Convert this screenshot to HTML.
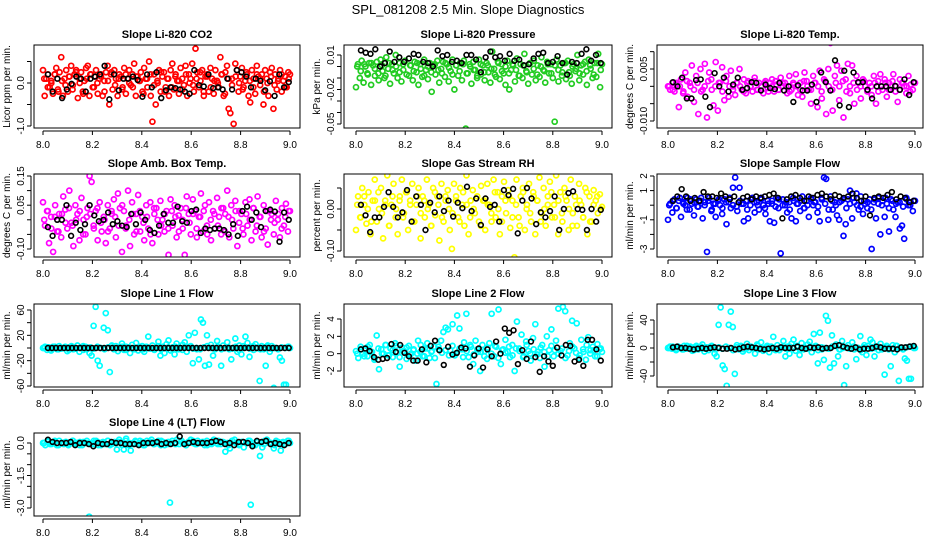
<!DOCTYPE html>
<html><head><meta charset="utf-8"><title>SPL_081208 Slope Diagnostics</title>
<style>
html,body{margin:0;padding:0;background:#fff;}
svg{display:block;font-family:"Liberation Sans",sans-serif;}
</style></head>
<body>
<svg id="chart" width="936" height="540" viewBox="0 0 936 540" xmlns="http://www.w3.org/2000/svg">
<rect width="936" height="540" fill="#fff"/>
<text x="468" y="14" text-anchor="middle" font-size="13">SPL_081208  2.5 Min. Slope Diagnostics</text>
</svg>
<script>
const xTicks = [8.0, 8.2, 8.4, 8.6, 8.8, 9.0];
const xTickLabels = ["8.0", "8.2", "8.4", "8.6", "8.8", "9.0"];

const titles = ["Slope Li-820 CO2","Slope Li-820 Pressure","Slope Li-820 Temp.","Slope Amb. Box Temp.","Slope Gas Stream RH","Slope Sample Flow","Slope Line 1 Flow","Slope Line 2 Flow","Slope Line 3 Flow","Slope Line 4 (LT) Flow"];
const yTitles = ["Licor ppm per min.","kPa per min.","degrees C per min.","degrees C per min.","percent per min.","ml/min per min.","ml/min per min.","ml/min per min.","ml/min per min.","ml/min per min."];
const colors = ["#ff0000","#22cc22","#ff00ff","#ff00ff","#ffff00","#0000ff","#00ffff","#00ffff","#00ffff","#00ffff"];

const yTicks = [[0.5,0,-0.5,-1],[0.01,0,-0.01,-0.02,-0.03,-0.04,-0.05],[0.01,0.005,0,-0.005,-0.01],[0.15,0.1,0.05,0,-0.05,-0.1],[0.05,0,-0.05,-0.1],[2,1,0,-1,-2,-3],[60,40,20,0,-20,-40,-60],[4,2,0,-2],[40,20,0,-20,-40],[0,-0.5,-1,-1.5,-2,-2.5,-3]];
const yTickLabels = [["","0.0","","-1.0"],["0.01","","","-0.02","","","-0.05"],["","0.005","","","-0.010"],["0.15","","0.05","","","-0.10"],["","0.00","","-0.10"],["2","1","","-1","","-3"],["60","","20","","-20","","-60"],["4","2","0","-2"],["40","","0","","-40"],["0.0","","","-1.5","","","-3.0"]];
const yCal = [[0,-1],[0.01,-0.05],[0.005,-0.01],[0.15,-0.1],[0,-0.1],[2,-3],[60,-60],[4,-2],[40,-40],[0,-3]];

const col1 = [0.3,-0.3,0.1,0.2,-0.1,0.05,-0.25,0.2,0.35,-0.15,0.25,0.6,-0.3,0.1,0.3,-0.2,0.15,0.4,-0.05,0.2,0.3,-0.35,0.1,0.25,-0.2,0.05,0.35,0.4,-0.3,0.2,-0.1,0.15,0.3,-0.25,0.1,0.2,-0.3,0.05,0.25,0.4,-0.5,0.2,-0.15,0.3,0.1,-0.3,0.2,0.15,-0.1,0.35,-0.25,0.1,0.3,-0.05,0.2,0.45,-0.3,0.15,0.05,0.25,-0.2,0.35,0.1,-0.1,0.5,-0.3,-0.9,0.2,-0.5,0.05,0.3,-0.2,0.15,0.25,-0.1,0.1,-0.3,0.3,0.45,-0.15,0.2,0.05,-0.25,0.35,0.1,-0.05,0.4,-0.3,0.2,0.1,0.45,-0.2,0.8,0.25,-0.1,0.05,0.3,-0.3,0.15,0.2,-0.2,0.35,0.1,-0.25,0.3,0.05,-0.1,0.6,0.2,-0.3,0.25,0.4,-0.6,-0.7,0.1,-0.95,0.45,0.3,-0.2,0.15,0.35,-0.1,0.05,0.2,-0.3,-0.45,0.3,0.1,-0.25,0.4,0.15,-0.05,0.2,-0.5,0.3,0.1,-0.3,0.25,0.35,-0.6,0.2,-0.15,0.1,0.3,-0.2,0.05,0.15,-0.1,0.25,0.2];
const core1 = [0.1,-0.1,0,0.2,-0.2,0.05,-0.05,0.15,-0.15,0.25,0,-0.25,0.1,0.2,-0.1,0,0.15,-0.2,0.05,0.25,-0.05,0.1,-0.15,0.2,0,-0.1,0.15,0.05,-0.25,0.1,0.2,-0.05,0,0.25,-0.2,0.1,-0.1,0.15,0.05,-0.15,0.2,0,-0.05,0.1,0.25,-0.2,0.15,-0.1,0.05,0,0.2,-0.25,0.1,-0.05,0.15,0,-0.15,0.25,0.05,-0.1,0.2,0.1,-0.2,0,0.15,-0.05,0.05,0.2,-0.1,0.1];
const blk1 = [0.2,-0.2,0.1,-0.35,-0.15,-0.02,0.15,0.1,-0.2,0.1,0.15,0.2,0.4,-0.38,0.2,-0.17,0.1,0.1,0.15,0.07,-0.32,0.2,-0.1,0.25,-0.35,-0.17,-0.1,-0.12,-0.15,-0.2,-0.25,0.3,-0.05,-0.08,0.2,-0.12,-0.1,-0.15,0.1,-0.15,0.3,0.25,0.15,-0.1,0.1,0.05,-0.17,0.04,-0.3,0.2,-0.1,0.02];

const col2 = [-0.018,0.002,-0.01,0.005,-0.014,0,-0.006,0.003,-0.016,0.001,-0.008,0.004,-0.012,0.006,-0.004,-0.01,0.008,-0.002,-0.015,0.002,-0.006,0.01,-0.01,0.003,-0.013,-0.003,0.005,-0.059,-0.008,0.001,-0.012,0.004,-0.005,-0.016,0.002,-0.009,0.006,-0.003,-0.011,0.003,-0.022,0.001,-0.007,0.005,-0.014,-0.002,0.004,-0.009,0.002,-0.013,-0.004,0.006,-0.02,0.001,-0.008,0.003,-0.012,0.005,-0.054,-0.006,0.002,-0.015,0.004,-0.003,-0.01,0.006,-0.007,0.001,-0.012,0.003,-0.005,-0.014,0.013,-0.002,-0.009,0.004,-0.011,0.002,-0.006,-0.016,0.005,-0.02,-0.003,0.001,-0.013,0.007,-0.008,0.002,-0.01,0.011,-0.004,-0.015,0.003,-0.007,0.005,-0.012,0.001,-0.009,0.008,-0.003,-0.014,0.004,-0.006,0.002,-0.01,-0.048,0.006,-0.013,0.001,-0.005,0.003,-0.011,0.005,-0.008,-0.015,0.002,-0.004,0.01,-0.012,0.001,-0.007,0.004,-0.016,0.006,-0.002,-0.01,0.003,-0.009,0.011,-0.018,0.002];
const core2 = [0,-0.004,0.002,-0.007,0.003,-0.002,-0.006,0.001,-0.008,0.003,-0.003,0,-0.005,0.002,-0.007,0.001,-0.004,0.003,-0.002,-0.008,0,-0.005,0.002,-0.003,-0.006,0.003,-0.001,-0.007,0.001,-0.004,0.002,-0.006,0,-0.003,-0.008,0.002,-0.005,0.001,-0.002,-0.007,0.003,-0.004,0,-0.006,0.002,-0.003,-0.008,0.001,-0.005,0.003,-0.002,-0.007,0,-0.004,0.002,-0.006,0.001,-0.003,-0.008,0.003,-0.005,0,-0.002,-0.006,0.002,-0.004,0.001,-0.007,0.003,-0.003];
const blk2 = [0.014,0.012,0.011,0.015,0,0.003,0.013,0.004,0.008,0.004,0.007,0.011,0.01,0.004,0.003,0,0.014,0.009,0.01,0.004,0.005,0.003,0.01,0.01,0.006,-0.005,0.008,0.013,0.008,0.009,0.005,0.011,0.005,0.006,0.001,0.002,0.007,0.011,0.012,0.003,0.004,0.009,0.003,-0.007,0.004,0.003,0.011,0.015,0.005,0.01,0.003];

const col3 = [0,-0.001,0.001,-0.0015,0.0005,-0.006,0.002,-0.002,0.004,-0.003,0.001,0.006,-0.0045,0.003,-0.008,0.005,-0.001,0.0065,-0.009,0.004,0.002,-0.0055,0.007,-0.007,0.001,0.0055,-0.004,0.003,-0.003,0.0045,0,-0.0025,0.001,0.005,-0.001,0.002,-0.002,0.0015,0,-0.0015,0.0025,-0.001,0.001,0,-0.002,0.0015,-0.0005,0.001,0.002,-0.0015,0.0005,-0.001,0.0025,0,0.001,-0.002,0.003,-0.001,0.0005,0.0035,-0.0025,0.001,-0.003,0.004,0.0015,-0.001,-0.005,0.003,0.001,-0.006,0.0045,-0.0035,0.002,-0.008,0.005,0.0125,-0.007,0.003,0.006,-0.004,0.0045,-0.009,0.002,0.0065,-0.002,0.006,-0.005,0.003,0.001,-0.0035,0.002,0,-0.0015,0.001,-0.0025,0.003,-0.005,0.0015,0.0035,-0.001,0.002,-0.003,0.001,0,0.0035,-0.0015,-0.0045,0.002,0.001,0,-0.002,0.003,0.0005,-0.001,0.001];
const core3 = [0,-0.001,0.001,0,-0.0015,0.0015,0,-0.001,0.001,-0.0015,0,0.0015,-0.001,0,0.001,-0.0015,0.0015,0,-0.001,0.001,0,-0.0015,0.001,0,0.0015,-0.001,0,0.001,-0.0015,0,0.0015,-0.001,0.001,0,-0.0015,0.001,0,-0.001,0.0015,0,-0.001,0.001,0,-0.0015,0.0015,0,-0.001,0.001,0,0.0015,-0.0015,0,0.001,-0.001,0,0.0015,-0.001,0,0.001,-0.0015,0,0.001,-0.001,0.0015,0,-0.001,0.001,0,-0.0015,0.001];
const blk3 = [0.0012,0,0.0025,-0.0035,-0.0035,0.0018,0.002,-0.003,-0.006,0.0038,0,0.0025,-0.0015,0.0005,0.0025,-0.001,-0.0005,0.0012,0.001,-0.0012,0.0005,-0.0005,-0.0008,0.001,-0.0012,0,-0.0045,0.0003,-0.0012,-0.0012,0.0005,-0.0045,0.004,0.0012,-0.0012,0.0075,-0.0055,0.0045,-0.006,0.004,0.0012,0.0012,-0.001,-0.0035,0,0,0,-0.001,0.0001,-0.001,0.002,-0.0025,0.0012];

const col4 = [0.06,-0.02,0.03,-0.08,0.01,-0.11,0.05,-0.04,0.02,-0.06,0.08,0.035,-0.03,0.1,-0.01,-0.09,0.05,0.02,-0.07,0.075,0,-0.05,0.04,0.15,0.13,-0.02,0.03,-0.07,0.06,-0.04,0.01,-0.08,0.05,-0.03,0.02,0.07,-0.06,0.09,0.04,-0.11,0.03,-0.02,0.1,-0.09,0.06,-0.05,0.02,0.085,-0.04,0.01,-0.07,0.05,-0.03,0.06,-0.08,0.02,0.04,-0.05,0.065,0,-0.04,0.03,-0.12,0.07,-0.02,0.05,-0.06,0.015,0.04,-0.03,-0.12,0.08,0.02,-0.05,0.07,0.03,-0.06,0.01,0.09,-0.04,0.05,-0.02,0.06,-0.07,0.03,-0.03,0.075,0.01,-0.05,0.04,0.02,0.1,-0.06,0.05,-0.03,0.065,-0.09,0.03,0.02,-0.05,0.06,-0.02,0.07,-0.07,0.04,-0.04,0.08,0.01,-0.06,0.05,-0.03,-0.085,0.03,0.02,-0.05,0.065,0,-0.06,0.04,-0.02,0.055,-0.04,0.03];
const core4 = [0,0.03,-0.03,0.01,-0.04,0.02,-0.01,0.04,-0.02,0,0.03,-0.05,0.01,0.02,-0.03,0.04,-0.01,0,-0.04,0.03,0.01,-0.02,0.05,-0.03,0,0.02,-0.04,0.03,-0.01,0.01,-0.05,0.04,0,-0.02,0.02,-0.03,0.03,0.01,-0.04,0,0.04,-0.01,0.02,-0.03,0.01,0.03,-0.05,0,0.02,-0.02,0.04,-0.04,0.01,0,0.03,-0.01,-0.03,0.02,0,0.04,-0.02,0.01,-0.04,0.03,0,-0.01,0.02,-0.03,0.01,0.03];
const blk4 = [-0.025,-0.055,0,0,0.05,-0.055,-0.01,-0.035,-0.015,0.05,0.015,-0.005,0,0.025,-0.015,-0.005,-0.02,-0.025,0.02,-0.015,0.025,0,-0.035,-0.045,-0.02,0.02,-0.01,-0.01,0.045,-0.005,-0.01,0.03,0.035,-0.045,-0.03,-0.035,-0.03,-0.03,-0.035,-0.05,-0.015,-0.055,0.03,0.045,0,0.025,-0.025,0.03,0.035,0.028,-0.075,0.025,0];

const col5 = [-0.05,0.03,-0.02,0.05,0.01,-0.035,0.04,-0.06,0.02,0.07,-0.03,0,0.05,-0.07,0.02,0.08,-0.04,0.01,0.06,-0.02,-0.06,0.03,0.07,-0.01,0.04,-0.05,0.02,0.06,-0.03,0.01,0.05,-0.07,0.03,-0.02,0.07,0.01,-0.04,0.05,-0.015,0.03,-0.075,0.06,-0.03,0.02,0.045,-0.05,-0.095,0.06,0.03,-0.02,0.05,0.01,-0.04,0.08,-0.06,0.02,0.045,-0.01,0.12,-0.03,0.055,0.02,-0.05,0.06,0.01,-0.03,0.07,-0.02,0.04,-0.06,0.03,0.065,-0.01,0.045,-0.045,0.02,-0.115,0.07,-0.02,0.03,0.05,-0.05,0.01,0.06,-0.03,0.04,-0.06,0.02,0.075,-0.01,0.05,-0.04,0.03,0.065,-0.02,0.01,0.08,-0.06,0.04,-0.03,0.05,0.02,-0.05,0.07,-0.01,0.03,-0.04,0.06,0.01,-0.02,0.05,-0.06,0.03,-0.03,0.045,0.02,-0.01,0.035,0.005];
const core5 = [0.01,-0.02,0.03,0,-0.03,0.02,0.04,-0.01,0.01,-0.04,0.03,0,0.02,-0.02,0.04,0.01,-0.03,0.03,-0.01,0.02,0,-0.04,0.04,0.01,-0.02,0.03,0,-0.01,0.02,-0.03,0.04,0.01,-0.02,0,0.03,-0.04,0.02,0.01,-0.01,0.04,0,-0.03,0.02,0.03,-0.02,0.01,-0.04,0.04,0,-0.01,0.03,0.02,-0.03,0,0.01,0.04,-0.02,0.02,-0.01,0.03,0,-0.04,0.01,0.02,-0.02,0.04,-0.03,0.01,0.03,0];
const blk5 = [0.01,-0.015,-0.055,-0.02,-0.02,0.005,0.04,0.005,-0.02,-0.008,0.045,-0.03,0.03,0.01,-0.05,0.015,-0.008,0.03,-0.005,0.02,-0.018,0.015,0.002,0.053,-0.005,0.025,-0.038,0.025,0.005,0.01,-0.03,0.045,0.033,0.048,-0.058,0.02,0.05,0.025,-0.036,-0.008,-0.02,-0.005,0.03,-0.05,0,0.038,0.042,0,-0.002,-0.05,0,-0.03,-0.002];

const col6 = [-1,0.1,-0.5,0.4,-0.2,0.3,-0.8,0.2,0,0.5,-0.3,0.1,-0.7,0.4,-0.1,0.3,-0.9,0.2,-3.2,0.5,-0.4,0.1,-0.8,0.3,0,-0.6,0.4,-1.3,0.2,-0.2,1.2,1.9,-0.4,1.2,0.1,-1.1,0.3,-0.9,0,0.5,-0.5,0.2,-0.3,0.4,0,-0.6,0.3,-1.1,0.1,-1.2,0.5,-0.2,-3.3,0.4,0,-0.5,0.2,-0.9,0.3,-1.1,0.1,-0.4,0.6,-0.2,0.3,-0.8,0.5,0,0.2,-0.5,-1.1,0.4,1.9,1.8,-1,0.6,-0.3,0.2,-0.7,-1,0.3,-2.1,-1.3,0.4,1,-0.9,0.2,0.8,-0.3,0.6,-0.6,0.1,-0.2,0.4,-3,0.2,-0.9,0.5,-2,0.3,-0.8,0.1,-1.8,0.4,-0.3,-0.8,0.2,-1.6,-1.4,-2.3,0.5,0,0.2,-0.4,0.3];
const core6 = [0,0.3,-0.2,0.5,0.1,-0.3,0.4,0.2,-0.1,0.5,0,0.3,-0.3,0.1,0.4,-0.2,0.2,0.5,0,-0.1,0.3,0.1,-0.3,0.4,0.2,0,0.5,-0.2,0.1,0.3,-0.1,0.4,0,0.2,-0.3,0.5,0.1,0.3,-0.2,0,0.4,0.2,-0.1,0.5,0.1,-0.3,0.3,0,0.2,0.4,-0.2,0.1,0.5,0,-0.1,0.3,0.2,-0.3,0.4,0.1,0,0.5,-0.2,0.3,0.1,0.2,-0.1,0.4,0,0.3];
const blk6 = [0.3,0.6,1.1,0.6,0.3,0.5,0.3,0.9,0.6,0.6,0.5,0.8,0.6,0.4,0.6,0.2,0.5,0.6,0.4,0.6,0.5,0.6,0.7,0.8,0.5,-0.9,0.4,0.6,0.7,0.5,0.3,0.6,0.5,0.7,0.8,0.6,0.4,0.7,0.6,0.5,0.6,0.8,0.5,0.3,0.6,-0.7,0.5,0.6,0.5,0.7,0.9,0.4,0.6,0.5,0.2,0.3];

const col7 = [0,2,-3,1,-4,2,0,-2,3,-1,0,2,-5,1,3,-2,0,4,-6,1,-3,2,0,-8,-12,35,65,-20,-28,-72,32,55,28,-38,4,-2,3,-5,1,7,-3,2,0,-8,5,-2,8,-4,0,3,-6,2,18,-1,4,-3,0,10,-12,2,-8,6,12,-4,1,-10,7,-2,0,5,9,-6,20,3,-24,24,-2,-18,45,40,-28,20,-26,5,-12,-2,11,-74,-28,4,0,9,-2,-18,0,15,-6,4,-10,3,18,8,-14,2,-3,6,0,-52,3,-2,-28,4,-6,3,-63,0,-1,-15,-20,-58,-58,2,0];
const core7 = [0,1,-1,2,-2,0,1,-3,2,-1,0,3,-2,1,-1,2,0,-2,1,3,-1,0,2,-3,1,-1,0,2,-2,1,0,-1,3,-2,0,1,-1,2,0,-3,1,2,-1,0,-2,1,3,0,-1,2,-2,0,1,-1,2,-3,0,1,-1,3,0,-2,1,2,-1,0,-2,1,0,2];
const blk7 = [0,0,0,0,0,0,0,0,0,0,0,0,0,0,0,0,0,0,0,0,0,0,0,0,0,0,0,0,0,0,0,0,0,0,0,0,0,0,0,0,0,0,0,0,0,0,0,0,0,0,0,0,0,0,0,0,0,0,0,0,0];

const col8 = [0.3,-0.5,0.8,0,0.4,-0.3,1,0.2,-0.7,2.1,-1.8,0.5,0,1,-0.2,0.6,-0.4,1.2,0.1,-1.5,0.7,0.3,-0.6,0.9,0,0.4,-0.8,1.5,0.2,-0.3,0.6,1.2,-0.5,0.3,0.8,-3.5,0.5,1.5,2.5,3,2.8,0.4,3.4,-0.2,4.4,2.9,0.5,1.3,4.6,-0.4,0.8,-1.2,1.5,0.2,-2,1,0.3,-0.6,1.2,4.6,-0.3,0.8,5.1,-1.2,0.5,1.6,0.2,-0.4,1,-2,3.7,0.6,2.2,-0.3,1.4,0.3,-0.8,1.8,3.4,0.2,-0.5,1,-1.5,2,0.4,2.8,-0.3,1.5,5.2,0.3,5.4,4.9,-0.2,1.2,3.8,0.6,3.5,-0.5,1.6,0.2,-0.7,1.9,0.4,0.8,-0.3,1.1,0.5,0.2];
const core8 = [0,0.5,-0.3,0.8,0.2,-0.5,0.6,0,1,-0.2,0.4,0.9,-0.4,0.3,0.7,-0.1,0.5,0,1,-0.3,0.6,0.2,-0.5,0.8,0.1,0.4,-0.2,0.9,0,0.6,-0.4,0.3,1,-0.1,0.5,0.2,-0.3,0.7,0,0.9,-0.5,0.4,0.1,0.8,-0.2,0.6,0.3,-0.4,1,0,0.5,-0.1,0.7,0.2,-0.3,0.9,0.4,0,0.6,-0.5,0.3,0.8,0.1,-0.2,0.5,1,0,0.4,-0.3,0.6];
const blk8 = [0.5,0.6,0.3,-0.4,-0.7,-0.6,-0.5,1.1,0.2,1,0.1,-0.3,-0.8,-0.8,0.5,-1,0.9,1.5,0.4,-1.3,0.8,-0.1,0.1,0.7,0.6,-1.5,-0.2,0.6,-1.6,0.5,-0.3,1.4,0,2.9,2.4,2.7,-1.2,0.4,-0.6,1.4,-0.4,-2.1,-0.3,-0.9,-1.4,0.7,-0.2,1,0.9,-0.9,-0.7,-1.4,1.6,1.6,0.5,-0.8];

const col9 = [0,2,-1,1,-3,2,0,-2,3,-1,0,2,-4,1,3,-2,0,5,-5,1,-3,2,0,-8,-12,33,58,-25,-30,-54,33,52,30,-37,4,-2,3,-5,1,6,-3,2,0,-8,5,-2,8,-4,0,3,-6,2,16,-1,4,-3,0,10,-12,2,-8,6,12,-4,1,-10,7,-2,0,5,9,-6,20,3,-22,22,-2,-17,46,39,-28,18,-22,5,-12,-2,10,-53,-26,4,0,8,-2,-16,0,17,-6,4,-10,3,12,8,-12,2,-3,6,0,-38,3,-2,-26,4,-6,3,-47,0,-1,-15,-18,-44,-44,2,0];
const core9 = [0,2,-1,1,-2,3,0,-3,1,2,-1,0,3,-2,1,-1,2,0,-3,1,2,-2,0,1,-1,3,0,-2,2,1,-3,0,1,-1,2,0,3,-2,1,-1,0,2,-3,1,0,-1,2,3,-2,0,1,-1,2,0,-3,1,3,-1,0,2,-2,1,0,-1,3,0,-2,1,2,0];
const blk9 = [1,2,0,0,-1,-2,-1,0,-1,0,1,0,-1,-1,0,-2,-1,1,2,1,0,-1,-2,-1,0,-1,1,0,0,0,2,0,-1,1,0,1,-1,0,0,3,4,2,0,-1,1,-2,-1,-1,0,2,1,-1,-1,-1,-2,1,1,2,3];

const col10 = [0,-0.1,0.1,-0.05,0,0.05,-0.1,0.1,0,-0.05,0.05,-0.1,0,0.1,-0.05,0,0.05,-0.1,0,0.1,-3.4,0,-0.05,0.1,-0.1,0,0.05,-0.05,0.1,-0.1,0,0.05,-0.3,0.15,0,-0.3,0.2,-0.1,-0.35,0,0.1,-0.05,0,0.05,-0.1,0.1,0,0.15,-0.05,0,0.1,-0.1,0.05,0,-0.05,-2.75,0.1,0,0.15,-0.05,0.1,0,-0.1,0.05,0.15,0,-0.05,0.1,0,0.05,-0.1,0.1,0,-0.05,0.15,0,0.1,-0.05,0.05,-0.4,0,-0.25,0.1,0.15,0,-0.1,0.05,-0.2,0,0.1,-2.85,0,-0.1,0.05,-0.6,-0.2,0.1,0.15,0,-0.05,-0.25,0.1,0,-0.35,0.05,-0.05,0.1,0];
const core10 = [0,0.05,-0.05,0.1,-0.1,0,0.05,-0.05,0.1,0,-0.1,0.05,0,-0.05,0.1,0.05,-0.1,0,0.1,-0.05,0,0.05,-0.1,0.1,0,-0.05,0.05,0.1,-0.1,0,0.05,-0.05,0,0.1,-0.1,0.05,0,-0.05,0.1,0,-0.1,0.05,0.1,-0.05,0,0.05,-0.1,0,0.1,-0.05,0.05,0,-0.1,0.1,0,-0.05,0.05,0,0.1,-0.1,0.05,0,-0.05,0.1,0,-0.1,0.05,0,-0.05,0.1];
const blk10 = [0.15,0.05,0,0,0,0.05,-0.1,0,0,-0.05,-0.15,0,-0.05,-0.05,0.05,0,0,-0.05,-0.05,-0.05,-0.1,0,0,0,0.05,-0.05,0,-0.05,0,0.3,-0.05,0,0.05,0,0,0,0.05,0.1,0.05,-0.05,0,-0.1,0.05,0.05,0,-0.15,0.1,0.05,0.1,-0.05,0,-0.05,-0.1,0];

const coloredSeries = [col1,col2,col3,col4,col5,col6,col7,col8,col9,col10];
const coreSeries = [core1,core2,core3,core4,core5,core6,core7,core8,core9,core10];
const blackSeries = [blk1,blk2,blk3,blk4,blk5,blk6,blk7,blk8,blk9,blk10];

// layout (not data)
const colBox = [{L:34,R:300,x8:43,x9:290},{L:344,R:612,x8:356,x9:602},{L:657,R:923,x8:668,x9:915}];
const rowBox = [{T:45,B:128},{T:174,B:257},{T:304,B:387},{T:433,B:516}];
const yCalPx = [[83,126],[55,124],[69,121],[176,249],[209,251],[176,249],[310,386],[319,371],[320,376],[443,508]];

const NS = "http://www.w3.org/2000/svg";
const svg = document.getElementById("chart");
function mk(tag, attrs, parent) {
  const e = document.createElementNS(NS, tag);
  for (const k in attrs) e.setAttribute(k, attrs[k]);
  (parent || svg).appendChild(e);
  return e;
}

for (let p = 0; p < 10; p++) {
  const c = colBox[p % 3], r = rowBox[Math.floor(p / 3)];
  const g = mk("g", {});
  
  
  const xs = v => c.x8 + (v - 8) * (c.x9 - c.x8);
  const [v1, v2] = yCal[p], [p1, p2] = yCalPx[p];
  const ys = v => p1 + (v - v1) * (p2 - p1) / (v2 - v1);

  const t = mk("text", {x: (c.L + c.R) / 2, y: r.T - 7, "text-anchor": "middle", "font-size": "11", "font-weight": "bold"}, g);
  
  
  t.textContent = titles[p];

  const yt = mk("text", {transform: `translate(${c.L - 24},${(r.T + r.B) / 2}) rotate(-90)`, "text-anchor": "middle", "font-size": "10"}, g);
  
  
  yt.textContent = yTitles[p];

  const xa = mk("g", {}, g);
  
  
  mk("line", {x1: xs(xTicks[0]), x2: xs(xTicks[xTicks.length - 1]), y1: r.B + 3, y2: r.B + 3, stroke: "#000", "stroke-width": 1}, xa);
  xTicks.forEach((v, i) => {
    mk("line", {x1: xs(v), x2: xs(v), y1: r.B + 3, y2: r.B + 7, stroke: "#000"}, xa);
    const tl = mk("text", {x: xs(v), y: r.B + 20, "text-anchor": "middle", "font-size": "10"}, xa);
    
    
    tl.textContent = xTickLabels[i];
  });

  const ya = mk("g", {}, g);
  
  
  const tk = yTicks[p];
  mk("line", {x1: c.L - 3, x2: c.L - 3, y1: ys(tk[0]), y2: ys(tk[tk.length - 1]), stroke: "#000"}, ya);
  tk.forEach((v, i) => {
    mk("line", {x1: c.L - 3, x2: c.L - 7, y1: ys(v), y2: ys(v), stroke: "#000"}, ya);
    if (yTickLabels[p][i]) {
      const tl = mk("text", {transform: `translate(${c.L - 10},${ys(v)}) rotate(-90)`, "text-anchor": "middle", "font-size": "10"}, ya);
      
      
      tl.textContent = yTickLabels[p][i];
    }
  });

  const clip = mk("clipPath", {id: "clip" + p}, g);
  mk("rect", {x: c.L, y: r.T, width: c.R - c.L, height: r.B - r.T}, clip);
  const pts = mk("g", {"clip-path": `url(#clip${p})`}, g);
  const cs = coloredSeries[p];
  cs.forEach((v, i) => {
    const pt = mk("circle", {cx: xs(8 + i / (cs.length - 1)), cy: ys(v), r: 2.5, fill: "none", stroke: colors[p], "stroke-width": 1.7}, pts);
    
    
  });
  const cr = coreSeries[p];
  cr.forEach((v, i) => {
    const pt = mk("circle", {cx: xs(8.005 + 0.99 * i / (cr.length - 1)), cy: ys(v), r: 2.5, fill: "none", stroke: colors[p], "stroke-width": 1.7}, pts);
    
    
  });
  const bs = blackSeries[p];
  bs.forEach((v, i) => {
    const pt = mk("circle", {cx: xs(8.02 + 0.975 * i / (bs.length - 1)), cy: ys(v), r: 2.4, fill: "none", stroke: "#000", "stroke-width": 1.6}, pts);
    
    
  });

  const box = mk("rect", {x: c.L, y: r.T, width: c.R - c.L, height: r.B - r.T, fill: "none", stroke: "#000", "stroke-width": 1}, g);
  
  
}
</script>
</body></html>
